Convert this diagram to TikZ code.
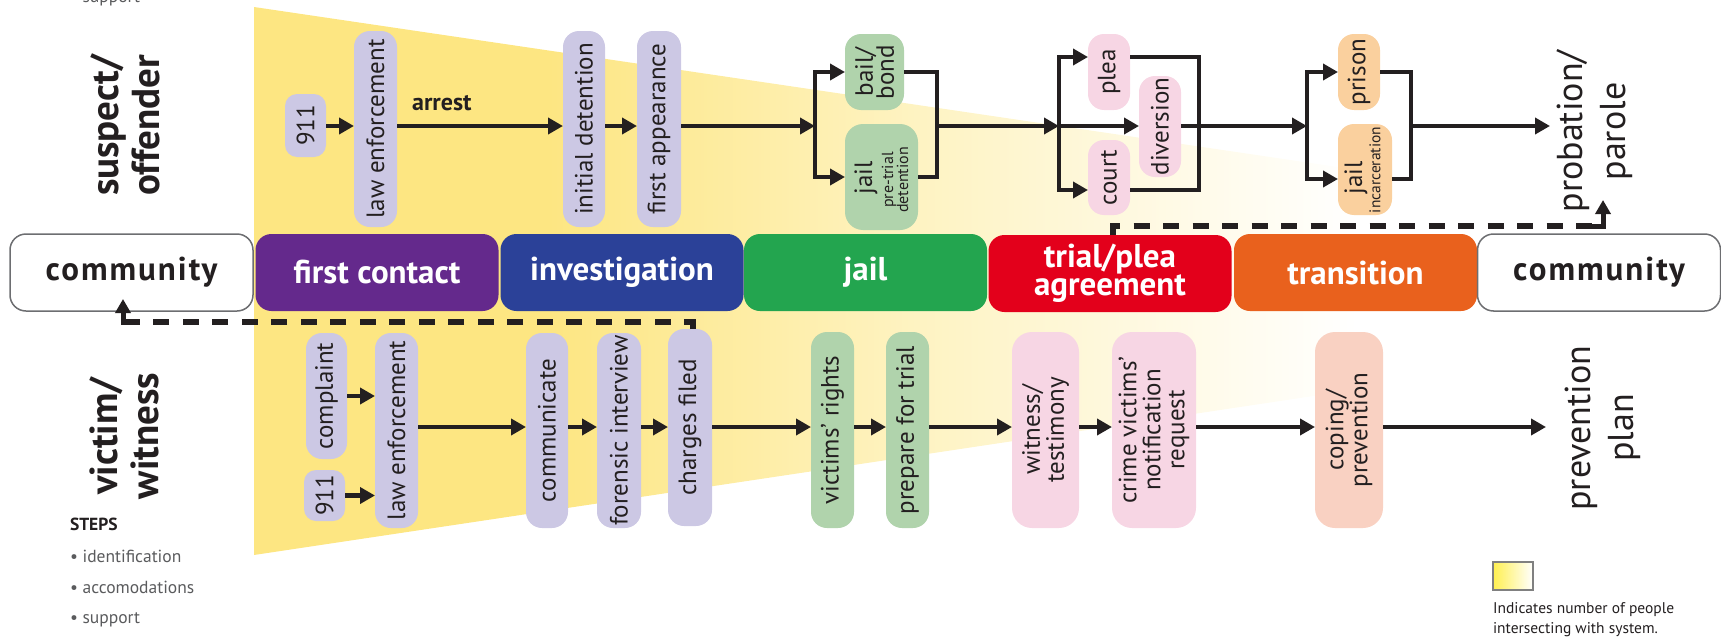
\documentclass[tikz,border=0pt]{standalone}
\usepackage{fontspec}
\setmainfont{PT Sans}
\usetikzlibrary{arrows.meta,calc}
\definecolor{ink}{HTML}{231F20}
\definecolor{lav}{HTML}{CCC8E4}
\definecolor{grn}{HTML}{B0D3AC}
\definecolor{pnk}{HTML}{F7D6E4}
\definecolor{org}{HTML}{FAD09E}
\definecolor{sal}{HTML}{F9D1C2}
\definecolor{fy}{HTML}{FDE682}
\definecolor{fymid}{HTML}{FEF3C2}
\definecolor{legy}{HTML}{FFF050}
\definecolor{spurple}{HTML}{64298C}
\definecolor{sblue}{HTML}{2B4198}
\definecolor{sgreen}{HTML}{23A54F}
\definecolor{sred}{HTML}{E3001B}
\definecolor{sorange}{HTML}{E9611D}
\definecolor{stepgrey}{HTML}{5A5B5D}
\definecolor{boxgrey}{HTML}{6D6E71}
\pgfdeclarehorizontalshading{funnelshade}{100bp}{color(0bp)=(fy); color(25bp)=(fy); color(37bp)=(fy); color(52bp)=(fymid); color(70bp)=(white); color(100bp)=(white)}
\begin{document}
\begin{tikzpicture}[x=1pt,y=-1pt,
  every node/.style={inner sep=0pt, outer sep=0pt},
  nbox/.style={rounded corners=16pt},
  lavb/.style={nbox, fill=lav},
  grnb/.style={nbox, fill=grn},
  pnkb/.style={nbox, fill=pnk},
  orgb/.style={nbox, fill=org},
  salb/.style={nbox, fill=sal},
  vt/.style={rotate=90, align=center, text=ink, font=\fontsize{25}{24}\selectfont},
  vts/.style={rotate=90, align=center, text=ink, font=\fontsize{16}{15}\selectfont},
  stage/.style={rounded corners=16pt, minimum width=243pt, minimum height=77pt, text=white, align=center,
     font=\bfseries\fontsize{33}{28}\selectfont},
  comm/.style={stage, fill=white, draw=boxgrey, line width=1.5pt, text=ink,
     font=\bfseries\fontsize{33}{28}\selectfont\addfontfeature{LetterSpace=6}},
  bigl/.style={rotate=90, align=center, text=ink, font=\bfseries\fontsize{39}{41}\selectfont},
  bigr/.style={rotate=90, align=center, text=ink, font=\fontsize{36}{43}\selectfont},
  stepst/.style={anchor=base west, text=stepgrey, font=\fontsize{17.5}{17}\selectfont},
  conn/.style={draw=ink, line width=4.5pt},
  arrw/.style={conn, -{Triangle[length=15pt,width=16pt]}},
  darrw/.style={conn, {Triangle[length=15pt,width=16pt]}-{Triangle[length=15pt,width=16pt]}},
  dashl/.style={draw=ink, line width=5.5pt, dash pattern=on 16pt off 13.5pt},
]
\lineskiplimit=-50pt
\useasboundingbox (0,0) rectangle (1721,637);

% funnel
\shade[shading=funnelshade] (254,7) -- (1480,188) -- (1480,371) -- (254,555) -- cycle;

% stage bar
\node[comm] (cl) at (131.5,272.5) {community};
\node[stage, fill=spurple] (sfc) at (377,272.5) {first contact};
\node[stage, fill=sblue] (sinv) at (622,272.5) {investigation};
\node[stage, fill=sgreen] (sjail) at (865.5,272.5) {jail};
\node[stage, fill=sred] (strial) at (1110,273.5) {trial/plea\\agreement};
\node[stage, fill=sorange] (strans) at (1355.5,272.5) {transition};
\node[comm] (cr) at (1599,272.5) {community};

% side labels
\node[bigl] (lso) at (125,125.5) {suspect/\\offender};
\node[bigl] (lvw) at (124,436) {victim/\\witness};
\node[bigr] (lpp) at (1594.5,131.5) {probation/\\parole};
\node[bigr] (lpv) at (1602.5,428) {prevention\\plan};

% steps
\node[stepst] (s0) at (70,2) {• support};
\node[anchor=base west, text=ink, font=\bfseries\fontsize{17.5}{17}\selectfont] (steps) at (70,530) {STEPS};
\node[stepst] (s1) at (70,562) {• identification};
\node[stepst] (s2) at (70,593) {• accomodations};
\node[stepst] (s3) at (70,623) {• support};

% legend
\shade[left color=legy, right color=white] (1493,562) rectangle (1533,590);
\draw[draw=gray, line width=1.2pt] (1493,562) rectangle (1533,590);
\node[anchor=base west, text=ink, font=\fontsize{15.5}{20}\selectfont] (lg1) at (1493,613) {Indicates number of people};
\node[anchor=base west, text=ink, font=\fontsize{15.5}{20}\selectfont] (lg2) at (1493,633) {intersecting with system.};

% ---------- top row boxes
\node[lavb, rounded corners=12pt, minimum width=41pt, minimum height=63pt] (t911) at (305.5,125.5) {};
\node[vt] at (t911) {911};
\node[lavb, minimum width=43pt, minimum height=196pt] (tle) at (375.5,129) {};
\node[vt] at (tle) {law enforcement};
\node[lavb, minimum width=42pt, minimum height=196pt] (tid) at (584,129) {};
\node[vt] at (tid) {initial detention};
\node[lavb, minimum width=44pt, minimum height=196pt] (tfa) at (659,129) {};
\node[vt] at (tfa) {first appearance};
\node[grnb, minimum width=59pt, minimum height=76pt] (bail) at (874.5,72) {};
\node[vt, font=\fontsize{25}{21}\selectfont] at (bail) {bail/\\bond};
\node[grnb, rounded corners=18pt, minimum width=73pt, minimum height=106pt] (tjail) at (881.5,177) {};
\node[vt] at (866,178) {jail};
\node[vts] at (895,180) {pre-trial\\detention};
\node[pnkb, minimum width=42pt, minimum height=76pt] (plea) at (1109,72) {};
\node[vt] at (plea) {plea};
\node[pnkb, minimum width=42pt, minimum height=75pt] (court) at (1109,177.5) {};
\node[vt] at (court) {court};
\node[pnkb, minimum width=42pt, minimum height=101pt] (div) at (1160,126.5) {};
\node[vt] at (div) {diversion};
\node[orgb, minimum width=42pt, minimum height=76pt] (prison) at (1359,72) {};
\node[vt] at (prison) {prison};
\node[orgb, minimum width=54pt, minimum height=91pt] (tjail2) at (1365,169.5) {};
\node[vt] at (1356,178) {jail};
\node[vts, font=\fontsize{15.5}{15}\selectfont] at (1375,170) {incarceration};

% ---------- bottom row boxes
\node[lavb, minimum width=41pt, minimum height=126pt] (bcomp) at (326.5,396) {};
\node[vt] at (bcomp) {complaint};
\node[lavb, rounded corners=12pt, minimum width=41pt, minimum height=51pt] (b911) at (324.5,495.5) {};
\node[vt] at (b911) {911};
\node[lavb, minimum width=43pt, minimum height=195pt] (ble) at (396.5,430.5) {};
\node[vt] at (ble) {law enforcement};
\node[lavb, minimum width=42pt, minimum height=195pt] (bcomm) at (547,430.5) {};
\node[vt] at (bcomm) {communicate};
\node[lavb, minimum width=44pt, minimum height=195pt] (bfor) at (619,430.5) {};
\node[vt] at (bfor) {forensic interview};
\node[lavb, minimum width=44pt, minimum height=197pt] (bchg) at (690,427.5) {};
\node[vt] at (bchg) {charges filed};
\node[grnb, minimum width=43pt, minimum height=196pt] (bvr) at (832.5,430) {};
\node[vt] at (bvr) {victims’ rights};
\node[grnb, minimum width=43pt, minimum height=196pt] (bprep) at (907.5,430) {};
\node[vt] at (bprep) {prepare for trial};
\node[pnkb, rounded corners=20pt, minimum width=67pt, minimum height=196pt] (bwit) at (1045.5,430) {};
\node[vt] at (bwit) {witness/\\testimony};
\node[pnkb, rounded corners=20pt, minimum width=84pt, minimum height=196pt] (bcvn) at (1154,430) {};
\node[vt] at (bcvn) {crime victims’\\notification\\request};
\node[salb, rounded corners=20pt, minimum width=68pt, minimum height=196pt] (bcop) at (1349,430) {};
\node[vt] at (bcop) {coping/\\prevention};

% ---------- coordinates
\coordinate (tl) at (0,126);
\coordinate (bl) at (0,427);
\coordinate (br1) at (815,126); \coordinate (br1t) at (815,72); \coordinate (br1b) at (815,177);
\coordinate (m1) at (937,126); \coordinate (m1t) at (937,72); \coordinate (m1b) at (937,177);
\coordinate (br2) at (1059,126); \coordinate (br2t) at (1059,57); \coordinate (br2b) at (1059,190);
\coordinate (m2t) at (1199,57); \coordinate (m2b) at (1199,190);
\coordinate (br3) at (1307,126); \coordinate (br3t) at (1307,72); \coordinate (br3b) at (1307,179);
\coordinate (m3) at (1411,126); \coordinate (m3t) at (1411,72); \coordinate (m3b) at (1411,179);
\coordinate (pend) at (1550,126);
\coordinate (pend2) at (1546,427);
\coordinate (tdl1) at (1113,226); \coordinate (tdl2) at (1603,226); \coordinate (pup) at (1603,200);
\coordinate (bdl1) at (693,322); \coordinate (bdl2) at (123,322);

% ---------- top connectors
\draw[arrw] (t911.east |- tl) -- (tle.west |- tl);
\draw[arrw] (tle.east |- tl) -- (tid.west |- tl)
  node[pos=0.27, yshift=23pt, text=ink, font=\bfseries\fontsize{24}{24}\selectfont] {arrest};
\draw[arrw] (tid.east |- tl) -- (tfa.west |- tl);
\draw[arrw] (tfa.east |- tl) -- (br1);
\draw[darrw] (bail.west |- br1t) -- (br1t) -- (br1b) -- (tjail.west |- br1b);
\draw[conn] (bail.east |- m1t) -- (m1t) -- (m1b) -- (tjail.east |- m1b);
\draw[arrw] (m1) -- (br2);
\draw[darrw] (plea.west |- br2t) -- (br2t) -- (br2b) -- (court.west |- br2b);
\draw[arrw] (br2) -- (div.west |- br2);
\draw[conn] (plea.east |- m2t) -- (m2t) -- (m2b) -- (court.east |- m2b);
\draw[arrw] (div.east |- br3) -- (br3);
\draw[darrw] (prison.west |- br3t) -- (br3t) -- (br3b) -- (tjail2.west |- br3b);
\draw[conn] (prison.east |- m3t) -- (m3t) -- (m3b) -- (tjail2.east |- m3b);
\draw[arrw] (m3) -- (pend);

% ---------- bottom connectors
\draw[arrw] (bcomp.east) -- (bcomp.east -| ble.west);
\draw[arrw] (b911.east) -- (b911.east -| ble.west);
\draw[arrw] (ble.east |- bl) -- (bcomm.west |- bl);
\draw[arrw] (bcomm.east |- bl) -- (bfor.west |- bl);
\draw[arrw] (bfor.east |- bl) -- (bchg.west |- bl);
\draw[arrw] (bchg.east |- bl) -- (bvr.west |- bl);
\draw[arrw] (bvr.east |- bl) -- (bprep.west |- bl);
\draw[arrw] (bprep.east |- bl) -- (bwit.west |- bl);
\draw[arrw] (bwit.east |- bl) -- (bcvn.west |- bl);
\draw[arrw] (bcvn.east |- bl) -- (bcop.west |- bl);
\draw[arrw] (bcop.east |- bl) -- (pend2);

% ---------- dashed returns
\draw[dashl] (strial.north -| tdl1) -- (tdl1) -- (tdl2);
\draw[conn, line width=5pt, -{Triangle[length=14pt,width=15pt]}] ($(tdl2)+(-14,0)$) -- (tdl2) -- (pup);
\draw[dashl] (bchg.north -| bdl1) -- (bdl1) -- (bdl2);
\draw[conn, line width=5pt, -{Triangle[length=14pt,width=15pt]}, shorten >=-12pt] ($(bdl2)+(14,0)$) -- (bdl2) -- (cl.south -| bdl2);
\end{tikzpicture}
\end{document}
